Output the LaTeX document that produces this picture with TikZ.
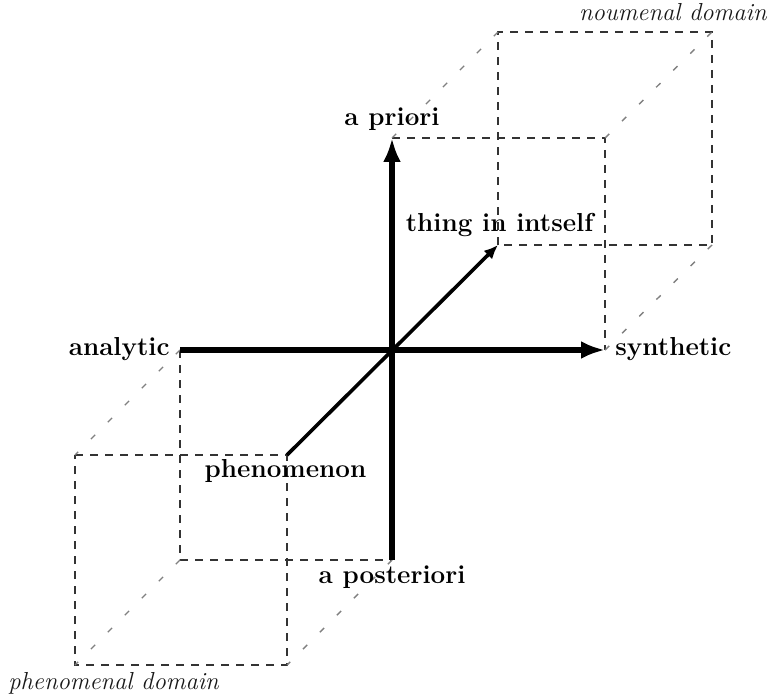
\documentclass[tikz,border=0pt]{standalone}
\usetikzlibrary{arrows.meta}
\begin{document}
\begin{tikzpicture}[x=0.5pt,y=-0.5pt,
 cubeline/.style={draw=black!80, line width=0.65pt, dash pattern=on 4pt off 3.5pt},
 depthline/.style={draw=black!50, line width=0.7pt, dash pattern=on 3pt off 9pt},
 mainaxis/.style={line width=3.2pt, -{Latex[length=12pt,width=9pt]}},
 diagaxis/.style={line width=1.8pt, -{Latex[length=7pt,width=6pt]}},
 axislabel/.style={font=\fontsize{13}{15}\selectfont\bfseries, inner sep=0pt, anchor=base},
 domainlabel/.style={font=\fontsize{12.3}{14}\selectfont\itshape, inner sep=0pt, anchor=base, text=black!90}]
\useasboundingbox (0,0) rectangle (770,695);
% axis points
\coordinate (O) at (392,350);
\coordinate (L) at (180,350);
\coordinate (R) at (605,350);
\coordinate (T) at (392,138);
\coordinate (B) at (392,560);
\coordinate (N) at (498,245);
\coordinate (P) at (287,455);
% upper cube
\coordinate (TR) at (605,138);
\coordinate (BT) at (498,32);
\coordinate (BTR) at (712,32);
\coordinate (BR) at (712,245);
% lower cube
\coordinate (LB) at (180,560);
\coordinate (PL) at (75,455);
\coordinate (PLB) at (75,665);
\coordinate (PB) at (287,665);
% cubes
\draw[cubeline] (T) -- (TR) -- (R);
\draw[cubeline] (N) -- (BT) -- (BTR) -- (BR) -- cycle;
\draw[depthline] (T) -- (BT);
\draw[depthline] (TR) -- (BTR);
\draw[depthline] (R) -- (BR);
\draw[cubeline] (L) -- (LB) -- (B);
\draw[cubeline] (PL) -- (P) -- (PB) -- (PLB) -- cycle;
\draw[depthline] (L) -- (PL);
\draw[depthline] (LB) -- (PLB);
\draw[depthline] (B) -- (PB);
% axes
\draw[mainaxis] (L) -- (R);
\draw[mainaxis] (B) -- (T);
\draw[diagaxis] (P) -- (N);
% labels
\node[axislabel] (apriori) at (392,126) {a priori};
\node[axislabel] (thing) at (499.5,232) {thing in intself};
\node[axislabel, anchor=base east] (analytic) at (170,355) {analytic};
\node[axislabel, anchor=base west] (synthetic) at (615,355) {synthetic};
\node[axislabel] (phenomenon) at (285.5,477) {phenomenon};
\node[axislabel] (aposteriori) at (392,583) {a posteriori};
\node[domainlabel, anchor=base east] (noumenal) at (767,21) {noumenal domain};
\node[domainlabel, anchor=base west] (phenomenal) at (8,689) {phenomenal domain};
\end{tikzpicture}
\end{document}
